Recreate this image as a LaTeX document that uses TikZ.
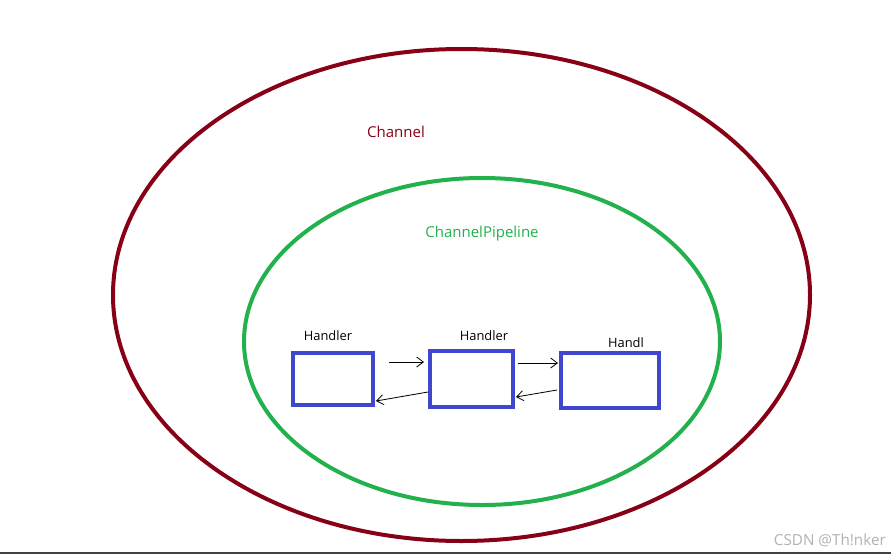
\documentclass[tikz,border=0pt]{standalone}
\usepackage{fontspec}
\setmainfont{Open Sans}
\usepackage{tikz}
\usetikzlibrary{arrows.meta, calc}
\definecolor{chanred}{HTML}{880015}
\definecolor{pipegreen}{HTML}{22B14C}
\definecolor{boxblue}{HTML}{3F48CC}
\tikzset{
  handlerbox/.style={draw=boxblue, line width=0.12cm, minimum width=#1, inner sep=0pt},
  hand/.style={-{Straight Barb[length=2mm, width=3mm]}, line width=0.7pt, black},
  txt/.style={font=\fontsize{11pt}{13pt}\selectfont, inner sep=0pt},
  bigtxt/.style={font=\fontsize{12.8pt}{15pt}\selectfont, inner sep=0pt}
}

\begin{document}
\begin{tikzpicture}[x=0.03cm, y=-0.03cm]
        \useasboundingbox (0, 0) rectangle (891, 555);
        \fill[white] (0, 0) rectangle (891, 555);

        \draw[chanred, line width=0.12cm] (461.5, 295) ellipse [x radius=348.5, y radius=246];
        \draw[pipegreen, line width=0.12cm] (482, 341.5) ellipse [x radius=238, y radius=163.5];

        \node[bigtxt, text=chanred] at (396, 132) (chan) {Channel};
        \node[bigtxt, text=pipegreen] at (482, 234) (pipe) {ChannelPipeline};

        \node[handlerbox=2.4cm, minimum height=1.56cm] at (333, 379) (h1) {};
        \node[handlerbox=2.49cm, minimum height=1.68cm] at (471.5, 379) (h2) {};
        \node[handlerbox=2.94cm, minimum height=1.65cm] at (610, 380.5) (h3) {};

        \node[txt] at (328, 336) (l1) {Handler};
        \node[txt] at (484, 336) (l2) {Handler};
        \node[txt] at (626, 343) (l3) {Handl};

        \draw[hand] ($(h1.east)+(14, -17)$) -- ($(h2.west)+(-4, -17)$);
        \draw[hand] ($(h2.east)+(3, -16)$) -- ($(h3.west)+(-1, -17.5)$);
        \draw[hand] ($(h3.west)+(-2, 9.5)$) -- ($(h2.east)+(1, 18)$);
        \draw[hand] ($(h2.west)+(0, 13)$) -- ($(h1.east)+(1, 22)$);

        \draw[black!75, line width=1.5pt] (0, 553) -- (891, 553);
        \node[font=\fontsize{13pt}{15pt}\selectfont, inner sep=0pt, text=black!30, anchor=east] at (886, 540) (mark) {CSDN @Th!nker};
    \end{tikzpicture}
\end{document}
